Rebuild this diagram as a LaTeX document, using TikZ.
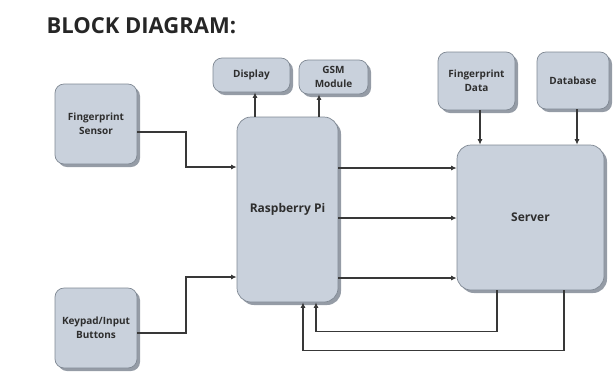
\documentclass[tikz,border=0pt]{standalone}
\usepackage{fontspec}
\setsansfont{Open Sans}
\usepackage{tikz}
\usetikzlibrary{positioning}
\usetikzlibrary{shadows, calc, arrows.meta}
\definecolor{boxfill}{HTML}{C9D1DC}
\definecolor{boxline}{HTML}{7F8893}
\definecolor{boxshade}{HTML}{959CA6}
\definecolor{wiregray}{HTML}{383838}
\definecolor{labelgray}{HTML}{2E2E2E}
\newcommand{\blockfont}{\sffamily\bfseries\fontsize{10}{14}\selectfont}

\begin{document}
\begin{tikzpicture}[align=center, x=1pt, y=-1pt]
       \tikzstyle{block} = [
            rectangle,
            draw=boxline,
            fill=boxfill,
            line width=0.7pt,
            inner sep=0pt,
            text=labelgray,
            font=\blockfont,
            drop shadow={shadow xshift=3pt, shadow yshift=-3pt, fill=boxshade, opacity=1}
       ]
       \tikzstyle{smallbox} = [block, rounded corners=9pt]
       \tikzstyle{bigbox} = [block, rounded corners=14pt,
            font=\sffamily\bfseries\fontsize{12}{14}\selectfont]
       \tikzstyle{arrow} = [line width=1.3pt, draw=wiregray, -{Latex[length=5.5pt,width=5pt]}]
       \useasboundingbox (0,0) rectangle (616,373);

       \node (title) [anchor=base west, font=\sffamily\bfseries\fontsize{22}{26}\selectfont, text=black!85] at (43,33) {BLOCK DIAGRAM:};

       \node (sensor) [smallbox, minimum width=82, minimum height=80] at (96,124) {Fingerprint\\Sensor};
       \node (keypad) [smallbox, minimum width=82, minimum height=80] at (96,328) {Keypad/Input\\Buttons};
       \node (display) [smallbox, minimum width=77, minimum height=34] at (251.5,75) {Display};
       \node (gsm) [smallbox, minimum width=69, minimum height=34] at (333.5,77) {GSM\\Module};
       \node (fpdata) [smallbox, minimum width=77, minimum height=58] at (476.5,81) {Fingerprint\\Data};
       \node (database) [smallbox, minimum width=72, minimum height=57] at (573,80.5) {Database};
       \node (rpi) [bigbox, minimum width=101, minimum height=185] at (287.5,209.5) {Raspberry Pi};
       \node (server) [bigbox, minimum width=147, minimum height=145] at (530.5,217.5) {Server};

       % inputs into the Pi
       \draw[arrow] (sensor.east |- 0,132) -- (186,132) |- (rpi.west |- 0,167);
       \draw[arrow] (keypad.east |- 0,333) -- (186,333) |- (rpi.west |- 0,277);

       % Pi outputs
       \draw[arrow] (rpi.north -| 255,0) -- (display.south -| 255,0);
       \draw[arrow] (rpi.north -| 319,0) -- (gsm.south -| 319,0);
       \draw[arrow] (rpi.east |- 0,168) -- (server.west |- 0,168);
       \draw[arrow] (rpi.east |- 0,218) -- (server.west |- 0,218);
       \draw[arrow] (rpi.east |- 0,278) -- (server.west |- 0,278);

       % into the server
       \draw[arrow] (fpdata.south -| 480,0) -- (server.north -| 480,0);
       \draw[arrow] (database.south -| 577,0) -- (server.north -| 577,0);

       % back to the Pi
       \draw[arrow] (server.south -| 497,0) -- ++(0,41) -| (rpi.south -| 316,0);
       \draw[arrow] (server.south -| 564,0) -- ++(0,60) -| (rpi.south -| 303,0);
\end{tikzpicture}
\end{document}
